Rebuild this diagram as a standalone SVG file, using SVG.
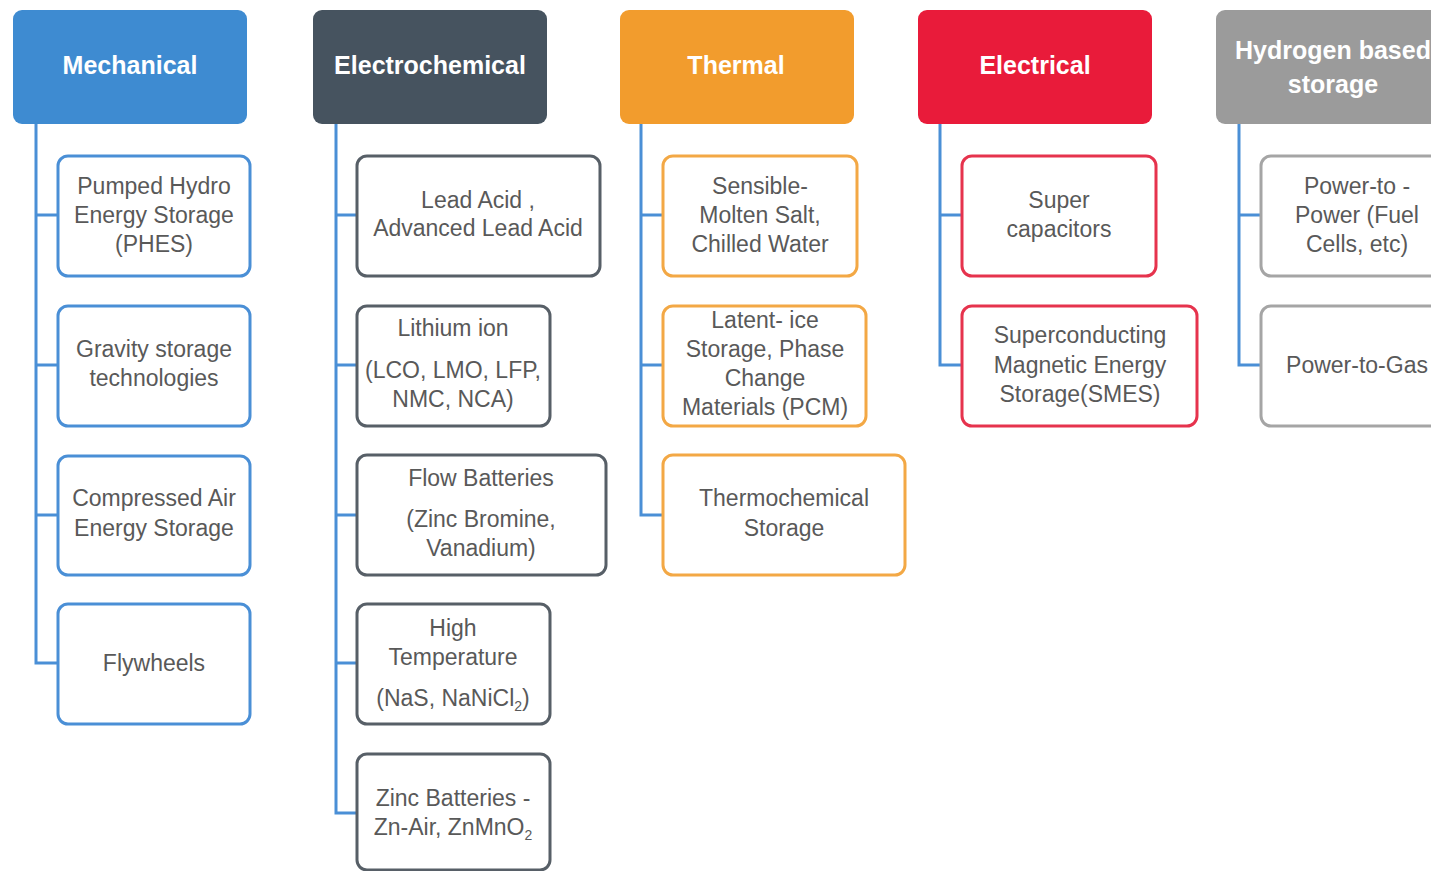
<svg xmlns="http://www.w3.org/2000/svg" width="1431" height="871" viewBox="0 0 1431 871">
<style>
.hdr{stroke:none}
.hd-t{font-family:"Liberation Sans",Arial,sans-serif;font-size:25px;font-weight:bold;fill:#ffffff;text-anchor:middle}
.box{fill:#ffffff;stroke-width:3}
.t{font-family:"Liberation Sans",Arial,sans-serif;font-size:23px;fill:#595959;text-anchor:middle}
.mech{stroke:#4a8fd6}
.echem{stroke:#575f67}
.therm{stroke:#f3a845}
.elec{stroke:#e6334d}
.hyd{stroke:#a5a5a5}
.conn{fill:none;stroke:#4a8fd6;stroke-width:3}
.sub{font-size:14px}
</style>
<rect width="1431" height="871" fill="#ffffff"/>
<g id="connectors">
<path class="conn" d="M36,124 V663 H58 M36,215 H58 M36,365 H58 M36,515 H58"/>
<path class="conn" d="M336,124 V813 H357 M336,215 H357 M336,365 H357 M336,515 H357 M336,663 H357"/>
<path class="conn" d="M641,124 V515 H663 M641,215 H663 M641,365 H663"/>
<path class="conn" d="M940,124 V365 H962 M940,215 H962"/>
<path class="conn" d="M1239,124 V365 H1261 M1239,215 H1261"/>
</g>
<g id="h-mechanical"><rect class="hdr" x="13" y="10" width="234" height="114" rx="9" fill="#3e8bd1"/><text class="hd-t" x="130" y="74">Mechanical</text></g>
<g id="h-electrochemical"><rect class="hdr" x="313" y="10" width="234" height="114" rx="9" fill="#46535f"/><text class="hd-t" x="430" y="74">Electrochemical</text></g>
<g id="h-thermal"><rect class="hdr" x="620" y="10" width="234" height="114" rx="9" fill="#f29c2d"/><text class="hd-t" x="736" y="74">Thermal</text></g>
<g id="h-electrical"><rect class="hdr" x="918" y="10" width="234" height="114" rx="9" fill="#e91b3a"/><text class="hd-t" x="1035" y="74">Electrical</text></g>
<g id="h-hydrogen"><rect class="hdr" x="1216" y="10" width="234" height="114" rx="9" fill="#9b9b9b"/><text class="hd-t" x="1333" y="59">Hydrogen based</text><text class="hd-t" x="1333" y="93">storage</text></g>

<g id="n-phes"><rect class="box mech" x="58" y="156" width="192" height="120" rx="10"/><text class="t" x="154" y="194">Pumped Hydro</text><text class="t" x="154" y="223">Energy Storage</text><text class="t" x="154" y="252">(PHES)</text></g>
<g id="n-gravity"><rect class="box mech" x="58" y="306" width="192" height="120" rx="10"/><text class="t" x="154" y="357">Gravity storage</text><text class="t" x="154" y="386">technologies</text></g>
<g id="n-caes"><rect class="box mech" x="58" y="456" width="192" height="119" rx="10"/><text class="t" x="154" y="506">Compressed Air</text><text class="t" x="154" y="536">Energy Storage</text></g>
<g id="n-flywheels"><rect class="box mech" x="58" y="604" width="192" height="120" rx="10"/><text class="t" x="154" y="671">Flywheels</text></g>

<g id="n-leadacid"><rect class="box echem" x="357" y="156" width="243" height="120" rx="10"/><text class="t" x="478" y="208">Lead Acid ,</text><text class="t" x="478" y="236">Advanced Lead Acid</text></g>
<g id="n-lithium"><rect class="box echem" x="357" y="306" width="193" height="120" rx="10"/><text class="t" x="453" y="336">Lithium ion</text><text class="t" x="453" y="378">(LCO, LMO, LFP,</text><text class="t" x="453" y="407">NMC, NCA)</text></g>
<g id="n-flow"><rect class="box echem" x="357" y="455" width="249" height="120" rx="10"/><text class="t" x="481" y="486">Flow Batteries</text><text class="t" x="481" y="527">(Zinc Bromine,</text><text class="t" x="481" y="556">Vanadium)</text></g>
<g id="n-hightemp"><rect class="box echem" x="357" y="604" width="193" height="120" rx="10"/><text class="t" x="453" y="636">High</text><text class="t" x="453" y="665">Temperature</text><text class="t" x="453" y="706">(NaS, NaNiCl<tspan class="sub" dy="5">2</tspan><tspan dy="-5">)</tspan></text></g>
<g id="n-zinc"><rect class="box echem" x="357" y="754" width="193" height="116" rx="10"/><text class="t" x="453" y="806">Zinc Batteries -</text><text class="t" x="453" y="835">Zn-Air, ZnMnO<tspan class="sub" dy="5">2</tspan></text></g>

<g id="n-sensible"><rect class="box therm" x="663" y="156" width="194" height="120" rx="10"/><text class="t" x="760" y="194">Sensible-</text><text class="t" x="760" y="223">Molten Salt,</text><text class="t" x="760" y="252">Chilled Water</text></g>
<g id="n-latent"><rect class="box therm" x="663" y="306" width="203" height="120" rx="10"/><text class="t" x="765" y="328">Latent- ice</text><text class="t" x="765" y="357">Storage, Phase</text><text class="t" x="765" y="386">Change</text><text class="t" x="765" y="415">Materials (PCM)</text></g>
<g id="n-thermochem"><rect class="box therm" x="663" y="455" width="242" height="120" rx="10"/><text class="t" x="784" y="506">Thermochemical</text><text class="t" x="784" y="536">Storage</text></g>

<g id="n-supercap"><rect class="box elec" x="962" y="156" width="194" height="120" rx="10"/><text class="t" x="1059" y="208">Super</text><text class="t" x="1059" y="237">capacitors</text></g>
<g id="n-smes"><rect class="box elec" x="962" y="306" width="235" height="120" rx="10"/><text class="t" x="1080" y="343">Superconducting</text><text class="t" x="1080" y="373">Magnetic Energy</text><text class="t" x="1080" y="402">Storage(SMES)</text></g>

<g id="n-p2p"><rect class="box hyd" x="1261" y="156" width="192" height="120" rx="10"/><text class="t" x="1357" y="194">Power-to -</text><text class="t" x="1357" y="223">Power (Fuel</text><text class="t" x="1357" y="252">Cells, etc)</text></g>
<g id="n-p2g"><rect class="box hyd" x="1261" y="306" width="192" height="120" rx="10"/><text class="t" x="1357" y="373">Power-to-Gas</text></g>
</svg>
